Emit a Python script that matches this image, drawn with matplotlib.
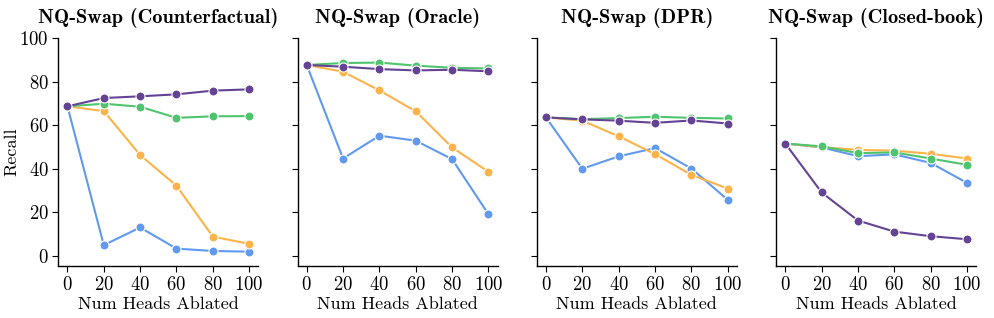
import matplotlib
matplotlib.use("Agg")
import matplotlib.pyplot as plt

heads = [0, 20, 40, 60, 80, 100]
titles = ["NQ-Swap (Counterfactual)", "NQ-Swap (Oracle)", "NQ-Swap (DPR)", "NQ-Swap (Closed-book)"]
yticks = [0, 20, 40, 60, 80, 100]

# series per panel: blue, orange, green, purple
blue = [
    [68.6, 4.8, 12.9, 3.2, 2.1, 1.8],
    [87.6, 44.6, 55.1, 52.8, 44.3, 19.0],
    [63.5, 39.9, 45.6, 49.4, 40.0, 25.6],
    [51.5, 49.7, 45.7, 46.5, 42.6, 33.4],
]
orange = [
    [68.6, 66.4, 46.2, 32.1, 8.7, 5.4],
    [87.6, 84.5, 75.9, 66.3, 49.7, 38.5],
    [63.5, 62.0, 54.8, 46.6, 37.1, 30.8],
    [51.5, 49.8, 48.6, 48.2, 46.8, 44.6],
]
green = [
    [68.6, 69.8, 68.4, 63.3, 64.0, 64.1],
    [87.6, 88.5, 88.7, 87.3, 86.3, 86.0],
    [63.5, 62.7, 63.2, 63.8, 63.3, 63.0],
    [51.5, 50.2, 47.1, 47.4, 44.6, 41.7],
]
purple = [
    [68.6, 72.4, 73.2, 74.1, 75.8, 76.4],
    [87.6, 86.8, 85.7, 85.1, 85.4, 84.7],
    [63.5, 62.6, 62.0, 61.0, 62.1, 60.7],
    [51.5, 29.0, 16.1, 11.0, 8.9, 7.5],
]

colors = {"blue": "#6199F0", "orange": "#FDB34A", "green": "#4FC46E", "purple": "#654394"}

plt.rcParams["font.family"] = "serif"
plt.rcParams["font.serif"] = ["cmr10", "DejaVu Serif"]
plt.rcParams["axes.formatter.use_mathtext"] = True
plt.rcParams["mathtext.fontset"] = "cm"

fig, axes = plt.subplots(1, 4, figsize=(9.94, 3.18), dpi=100, sharey=True)
fig.subplots_adjust(left=0.0587, right=0.982, bottom=0.1635, top=0.8805, wspace=0.197)

for i, ax in enumerate(axes):
    for series, c in [(blue, "blue"), (orange, "orange"), (green, "green"), (purple, "purple")]:
        ax.plot(heads, series[i], color=colors[c], lw=1.5, marker="o", ms=6.5,
                markeredgecolor="white", markeredgewidth=0.8)
    ax.set_title(titles[i], fontfamily="cmb10", fontsize=14.6, pad=11)
    ax.set_xlabel("Num Heads Ablated", fontsize=13, labelpad=2)
    ax.set_xticks(heads)
    ax.set_yticks(yticks)
    ax.set_ylim(-4.8, 100)
    ax.set_xlim(-5, 105)
    ax.tick_params(labelsize=13.5, length=4.5, width=0.8, pad=2.5)
    ax.spines["top"].set_visible(False)
    ax.spines["right"].set_visible(False)
    for s in ("left", "bottom"):
        ax.spines[s].set_linewidth(1.0)
axes[0].set_ylabel("Recall", fontsize=13, labelpad=0)

fig.savefig("out.png", dpi=100)
